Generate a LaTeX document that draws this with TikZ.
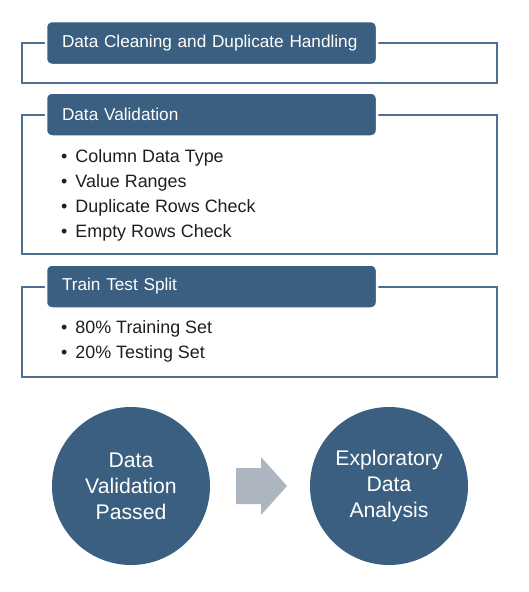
\documentclass[tikz,border=0pt]{standalone}
\usepackage{fontspec}
\setmainfont{Liberation Sans}
\usetikzlibrary{positioning}
\definecolor{hdrblue}{HTML}{3A5F80}
\definecolor{lineblue}{HTML}{4B7091}
\definecolor{arrgray}{HTML}{ADB5C1}
\definecolor{txtdark}{HTML}{1E1E1E}
\newcommand{\hdrwd}{331pt}
\newcommand{\hdrht}{44pt}
\tikzset{
    framesty/.style={draw=lineblue,line width=1.8pt},
    hdrsty/.style={fill=hdrblue,draw=white,line width=2.5pt,rounded corners=6pt,
        minimum width=\hdrwd,minimum height=\hdrht,text=white,
        font=\fontsize{17.2}{20}\selectfont,align=left,text width=299pt,anchor=center},
    itemsty/.style={anchor=west,text=txtdark,inner sep=0pt,font=\fontsize{17.9}{20}\selectfont},
    circsty/.style={circle,fill=hdrblue,minimum size=158pt,text=white,align=center,
        font=\fontsize{21.2}{26}\selectfont},
    arrsty/.style={fill=arrgray},
}
\newcommand{\bul}{\textbullet\hspace{8pt}}

\begin{document}
\begin{tikzpicture}[x=1pt,y=-1pt]
\useasboundingbox (0,0) rectangle (529,592);

% cleaning
\draw[framesty] (22,43) rectangle (497,83);
\node[hdrsty] (clean) at (211.5,43) {Data Cleaning and Duplicate Handling};

% validation
\draw[framesty] (22,115) rectangle (497,254);
\node[hdrsty] (valid) at (211.5,114.5) {Data Validation};
\node[itemsty] (vi1) at (61,158) {\bul Column Data Type};
\node[itemsty] (vi2) at (61,183) {\bul Value Ranges};
\node[itemsty] (vi3) at (61,208) {\bul Duplicate Rows Check};
\node[itemsty] (vi4) at (61,233) {\bul Empty Rows Check};

% split
\draw[framesty] (22,287) rectangle (497,377);
\node[hdrsty] (split) at (211.5,286.5) {Train Test Split};
\node[itemsty] (si1) at (61,329) {\bul 80\% Training Set};
\node[itemsty] (si2) at (61,354) {\bul 20\% Testing Set};

% result
\node[circsty] (pass) at (131,486) {Data\\Validation\\Passed};
\node[circsty] (eda) at (389,486) {Exploratory\\Data\\Analysis};
\fill[arrsty] (236,468) -- (261,468) -- (261,457) -- (287,486) -- (261,515) -- (261,504) -- (236,504) -- cycle;
\end{tikzpicture}
\end{document}
